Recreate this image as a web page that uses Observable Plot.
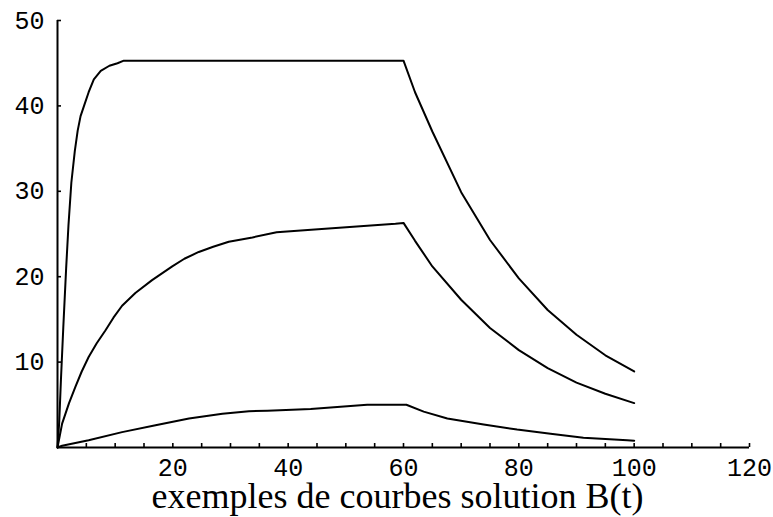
<!DOCTYPE html>
<html>
<head>
<meta charset="utf-8">
<script src="https://cdn.jsdelivr.net/npm/d3@7"></script>
<script src="https://cdn.jsdelivr.net/npm/@observablehq/plot@0.6"></script>
<style>
  html, body { margin: 0; padding: 0; background: #fff; }
  #wrap { position: relative; width: 773px; height: 517px; overflow: hidden; background: #fff; }
  #chart { position: absolute; left: 0; top: 0; }
  #title {
    position: absolute; left: 11px; top: 481px; width: 773px;
    text-align: center; font-family: "Liberation Serif", "Times New Roman", serif;
    font-size: 36px; line-height: 30px; height: 30px; color: #000; white-space: nowrap;
  }
</style>
</head>
<body>
<div id="wrap">
  <div id="chart"></div>
  <div id="title">exemples de courbes solution B(t)</div>
</div>
<script>
// Curve 1 (top)
const topT = [0, 0.3, 0.6, 1.0, 1.5, 1.9, 2.4, 3.0, 3.5, 4.0, 4.6, 5.4, 6.3, 7.5, 9.0, 10.4, 11.5, 60, 62, 65, 70, 75, 80, 85, 90, 95, 100];
const topB = [0, 3, 8, 14, 21, 26, 31, 34.7, 37.1, 38.8, 40.0, 41.6, 43.1, 44.1, 44.7, 45.0, 45.3, 45.3, 41.6, 37.0, 29.9, 24.3, 19.8, 16.1, 13.2, 10.8, 8.9];
// Curve 2 (middle)
const midT = [0, 0.8, 2, 3.1, 4.2, 5.4, 6.8, 8.3, 9.7, 11.2, 13.5, 16.4, 19.9, 22, 24.5, 27, 29.7, 33.8, 38, 44, 52.5, 58.6, 60, 62, 65, 70, 75, 80, 85, 90, 95, 100];
const midB = [0, 2.8, 5.2, 7.1, 8.9, 10.6, 12.2, 13.7, 15.2, 16.6, 18.1, 19.6, 21.2, 22.1, 22.9, 23.5, 24.1, 24.6, 25.2, 25.5, 25.9, 26.2, 26.3, 24.2, 21.2, 17.3, 14.0, 11.4, 9.3, 7.6, 6.3, 5.2];
// Curve 3 (bottom)
const lowT = [0, 0.8, 5.4, 11.2, 17, 22.8, 28.6, 33.2, 36.4, 43.9, 53.7, 60.5, 63.5, 67.6, 73.9, 79.7, 85.5, 91.2, 98.8, 100];
const lowB = [0, 0.2, 0.85, 1.8, 2.6, 3.4, 3.95, 4.25, 4.3, 4.5, 5.0, 5.0, 4.2, 3.4, 2.7, 2.1, 1.6, 1.15, 0.85, 0.8];

// Ticks
const xMajor = [20, 40, 60, 80, 100, 120];
const xMinor = [5, 10, 15, 20, 25, 30, 35, 40, 45, 50, 55, 60, 65, 70, 75, 80, 85, 90, 95, 100, 105, 110, 115, 120];
const yMajor = [10, 20, 30, 40, 50];

const rows = [];
[["haut", topT, topB], ["milieu", midT, midB], ["bas", lowT, lowB]].forEach(([s, T, B]) => {
  T.forEach((t, i) => rows.push({serie: s, t, B: B[i]}));
});

const chart = Plot.plot({
  width: 773,
  height: 517,
  marginLeft: 57,
  marginRight: 24,
  marginTop: 20,
  marginBottom: 70,
  x: {domain: [0, 120], label: null},
  y: {domain: [0, 50], label: null},
  style: {fontFamily: "Liberation Mono, monospace", fontSize: "25px", color: "#000", background: "#fff"},
  marks: [
    Plot.axisX({ticks: xMinor, tickSize: -4, fill: "none", strokeWidth: 1.6, label: null}),
    Plot.axisX({ticks: xMajor, tickSize: 0, tickPadding: 11, fontSize: 25, label: null}),
    Plot.axisY({ticks: yMajor, tickSize: -4, fill: "none", strokeWidth: 1.6, label: null}),
    Plot.axisY({ticks: yMajor, tickSize: 0, tickPadding: 13, fontSize: 25, label: null}),
    Plot.ruleY([0], {stroke: "#000", strokeWidth: 2}),
    Plot.ruleX([0], {stroke: "#000", strokeWidth: 2}),
    Plot.line(rows, {x: "t", y: "B", z: "serie", stroke: "#000", strokeWidth: 2})
  ]
});
document.getElementById("chart").appendChild(chart);
</script>
</body>
</html>
